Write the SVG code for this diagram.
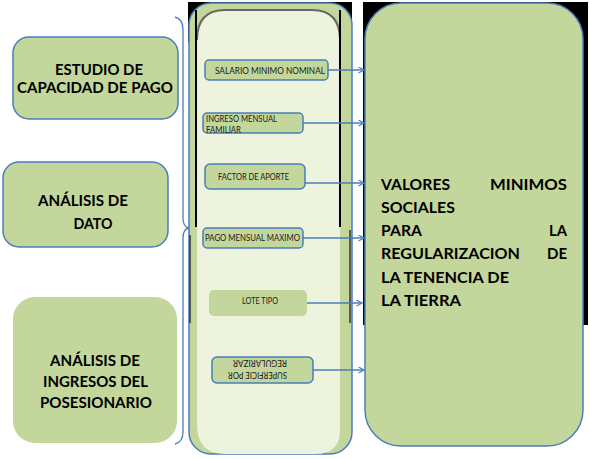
<svg xmlns="http://www.w3.org/2000/svg" width="589" height="459" viewBox="0 0 589 459">
<defs>
<style>
.g{fill:#c3d69b}
.gs{fill:#c3d69b;stroke:#4a7ebb;stroke-width:1.5}
.big{font-family:Lato,"Liberation Sans",sans-serif;font-weight:bold;font-size:16px;fill:#000}
.sm{font-family:Lato,"Liberation Sans",sans-serif;font-size:8.5px;fill:#1a1a1a}
.conn{stroke:#4a7ebb;stroke-width:1.3;fill:none;marker-end:url(#ah)}
.blk{stroke:#000;stroke-width:2}
</style>
<marker id="ah" markerWidth="8" markerHeight="8" refX="6" refY="3.5" orient="auto" markerUnits="userSpaceOnUse">
<path d="M0.5,0.5 L6,3.5 L0.5,6.5" fill="none" stroke="#4a7ebb" stroke-width="1.2"/>
</marker>
</defs>
<rect width="589" height="459" fill="#fff"/>

<g id="estudio">
<rect class="gs" x="13" y="37" width="165" height="82" rx="16"/>
<text class="big" x="99" y="75" text-anchor="middle" textLength="88" lengthAdjust="spacingAndGlyphs">ESTUDIO DE</text>
<text class="big" x="95" y="93" text-anchor="middle" textLength="156" lengthAdjust="spacingAndGlyphs">CAPACIDAD DE PAGO</text>
</g>

<g id="analisis-dato">
<rect class="gs" x="3" y="162" width="165" height="85" rx="16"/>
<text class="big" x="83" y="206" text-anchor="middle" textLength="90" lengthAdjust="spacingAndGlyphs">ANÁLISIS DE</text>
<text class="big" x="93" y="229" text-anchor="middle" textLength="39" lengthAdjust="spacingAndGlyphs">DATO</text>
</g>

<g id="analisis-ingresos">
<rect class="g" x="13" y="297" width="164" height="146" rx="22"/>
<text class="big" x="95" y="366" text-anchor="middle" textLength="90" lengthAdjust="spacingAndGlyphs">ANÁLISIS DE</text>
<text class="big" x="95.5" y="387" text-anchor="middle" textLength="105" lengthAdjust="spacingAndGlyphs">INGRESOS DEL</text>
<text class="big" x="96" y="408" text-anchor="middle" textLength="112" lengthAdjust="spacingAndGlyphs">POSESIONARIO</text>
</g>

<g id="brace">
<path d="M175,17 Q183,19 183,30 L183,218 Q183,227 189,228 Q183,229 183,238 L183,432 Q183,442 175,444" fill="none" stroke="#4a7ebb" stroke-width="1.3"/>
</g>

<g id="columna">
<rect x="188" y="2" width="164" height="40" fill="#000"/>
<rect class="gs" x="189" y="3" width="163" height="451" rx="22"/>
<path d="M197,40 Q197,10 225,10 L312,10 Q340,10 340,40 L340,430 Q340,454 315,454 L225,454 Q197,454 197,424 Z" fill="#eef3dd"/>
<path d="M197,40 Q197,10 225,10 L312,10 Q340,10 340,40" fill="none" stroke="#666" stroke-width="2"/>
<line class="blk" x1="196" y1="10" x2="196" y2="227"/>
<line class="blk" x1="340" y1="10" x2="340" y2="227"/>
<line x1="190" y1="235" x2="190" y2="323" stroke="#333" stroke-width="1.5"/>
<line x1="350" y1="230" x2="350" y2="323" stroke="#333" stroke-width="1.5"/>
</g>

<g id="salario">
<rect class="gs" x="205" y="60" width="123" height="20" rx="4"/>
<text class="sm" x="215" y="74" textLength="110" lengthAdjust="spacingAndGlyphs">SALARIO MINIMO NOMINAL</text>
</g>
<g id="ingreso">
<rect class="gs" x="203" y="113" width="100" height="20" rx="4"/>
<text class="sm" x="206" y="122" textLength="71" lengthAdjust="spacingAndGlyphs">INGRESO MENSUAL</text>
<text class="sm" x="206" y="133" textLength="35" lengthAdjust="spacingAndGlyphs">FAMILIAR</text>
</g>
<g id="factor">
<rect class="gs" x="205" y="164" width="100" height="25" rx="5"/>
<text class="sm" x="218" y="180" textLength="71" lengthAdjust="spacingAndGlyphs">FACTOR DE APORTE</text>
</g>
<g id="pago">
<rect class="gs" x="203" y="228" width="100" height="20" rx="4"/>
<text class="sm" x="205" y="241" textLength="95" lengthAdjust="spacingAndGlyphs">PAGO MENSUAL MAXIMO</text>
</g>
<g id="lote">
<rect class="g" x="209" y="290" width="98" height="26" rx="5"/>
<text class="sm" x="242" y="304" textLength="36" lengthAdjust="spacingAndGlyphs">LOTE TIPO</text>
</g>
<g id="superficie" transform="rotate(180 262.5 370)">
<rect class="gs" x="212" y="357" width="101" height="26" rx="5"/>
<text class="sm" x="238" y="368" textLength="59" lengthAdjust="spacingAndGlyphs">SUPERFICIE POR</text>
<text class="sm" x="238" y="380" textLength="54" lengthAdjust="spacingAndGlyphs">REGULARIZAR</text>
</g>

<g id="valores">
<rect x="363" y="2" width="225" height="323" fill="#000"/>
<rect class="gs" x="365" y="3" width="218" height="443" rx="36"/>
<text class="big" x="381" y="190" textLength="69" lengthAdjust="spacingAndGlyphs">VALORES</text>
<text class="big" x="567" y="190" text-anchor="end" textLength="77" lengthAdjust="spacingAndGlyphs">MINIMOS</text>
<text class="big" x="381" y="213" textLength="74" lengthAdjust="spacingAndGlyphs">SOCIALES</text>
<text class="big" x="381" y="236" textLength="41" lengthAdjust="spacingAndGlyphs">PARA</text>
<text class="big" x="567" y="236" text-anchor="end" textLength="18" lengthAdjust="spacingAndGlyphs">LA</text>
<text class="big" x="381" y="259" textLength="139" lengthAdjust="spacingAndGlyphs">REGULARIZACION</text>
<text class="big" x="567" y="259" text-anchor="end" textLength="20" lengthAdjust="spacingAndGlyphs">DE</text>
<text class="big" x="381" y="283" textLength="128" lengthAdjust="spacingAndGlyphs">LA TENENCIA DE</text>
<text class="big" x="381" y="306" textLength="80" lengthAdjust="spacingAndGlyphs">LA TIERRA</text>
</g>

<g id="connectors">
<line class="conn" x1="328" y1="70" x2="364" y2="70"/>
<line class="conn" x1="303" y1="123" x2="364" y2="123"/>
<line class="conn" x1="305" y1="183" x2="364" y2="183"/>
<line class="conn" x1="303" y1="238" x2="364" y2="238"/>
<line class="conn" x1="307" y1="303" x2="362" y2="303"/>
<line class="conn" x1="313" y1="370" x2="364" y2="370"/>
</g>
</svg>
